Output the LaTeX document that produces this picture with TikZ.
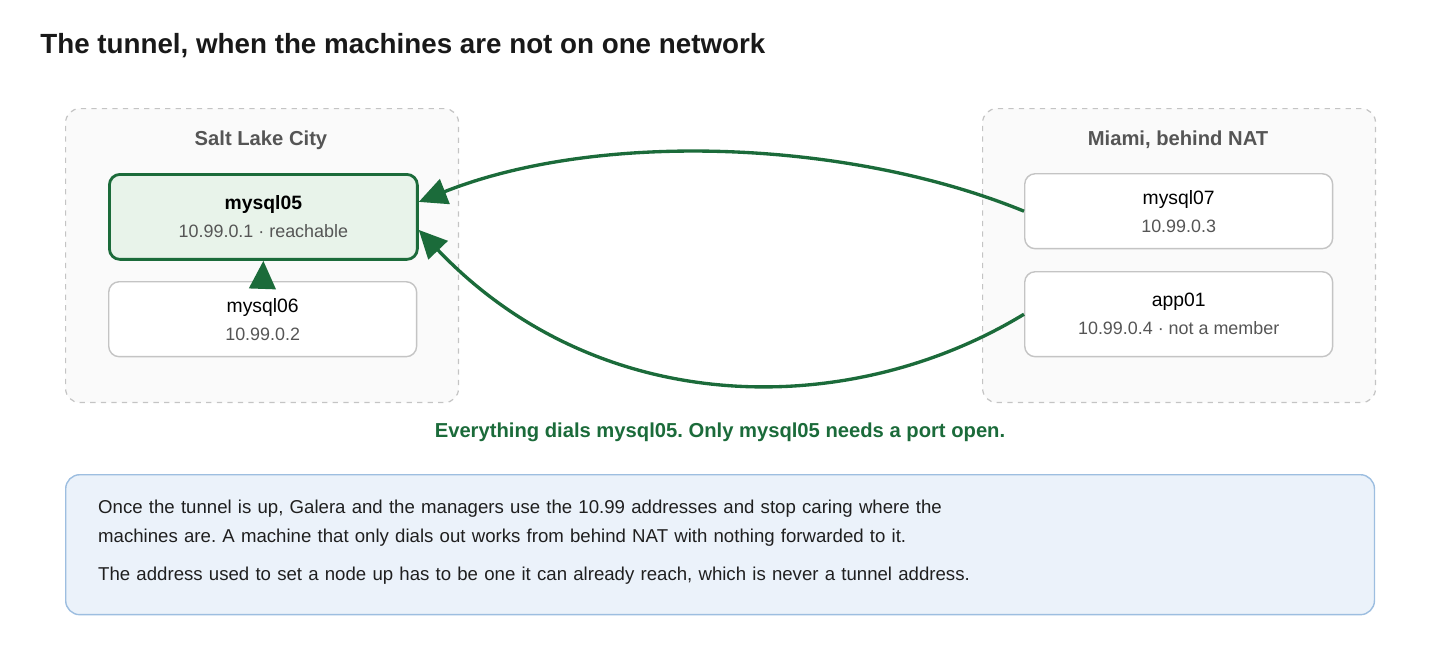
\documentclass[tikz,border=0pt]{standalone}
\usepackage{fontspec}
\setmainfont{Liberation Sans}
\usetikzlibrary{arrows.meta}
\definecolor{tgreen}{HTML}{1B6B3A}
\definecolor{tgreenfill}{HTML}{E8F3EA}
\definecolor{tgray}{HTML}{555555}
\definecolor{tborder}{HTML}{C4C4C4}
\definecolor{tnote}{HTML}{EBF2FA}
\definecolor{tnoteline}{HTML}{9DBEE0}
\tikzset{
  site/.style={draw=tborder, dashed, fill=black!2, rounded corners=8pt, line width=0.7pt, anchor=north west, minimum width=7.86cm, minimum height=5.88cm},
  sitelabel/.style={font=\fontsize{11.5}{13}\selectfont\bfseries, text=tgray},
  host/.style={draw=tborder, fill=white, rounded corners=6pt, line width=0.8pt, anchor=north west, minimum width=6.16cm, align=center, font=\fontsize{11}{13}\selectfont},
  dial/.style={draw=tgreen, line width=1.9pt, -{Triangle[length=16pt,width=15pt]}}
}
\newcommand{\addr}[1]{\\[3pt]{\fontsize{10.2}{12}\selectfont\color{tgray}#1}}
\begin{document}
\frenchspacing
\begin{tikzpicture}[x=0.02cm, y=-0.02cm]
\useasboundingbox (0,0) rectangle (1440,654);

\node[anchor=west, inner sep=0pt, font=\fontsize{15.8}{18}\selectfont\bfseries, text=black!90] (title) at (40,46) {The tunnel, when the machines are not on one network};

% sites
\node[site] (slc) at (65,108) {};
\node[site] (mia) at (982,108) {};
\node[sitelabel] (slclabel) at (261,140) {Salt Lake City};
\node[sitelabel] (mialabel) at (1178,140) {Miami, behind NAT};

% hosts
\node[host, draw=tgreen, fill=tgreenfill, line width=1.6pt, minimum height=1.7cm] (m5) at (108,173) {{\bfseries mysql05}\addr{10.99.0.1 · reachable}};
\node[host, minimum height=1.5cm] (m6) at (108,281) {mysql06\addr{10.99.0.2}};
\node[host, minimum height=1.5cm] (m7) at (1024,173) {mysql07\addr{10.99.0.3}};
\node[host, minimum height=1.7cm] (app) at (1024,271) {app01\addr{10.99.0.4 · not a member}};

% connectors
\draw[dial] (m6.north) -- (m5.south);
\draw[dial] (m7.west) .. controls (850,140) and (600,130) .. ([yshift=0.3cm]m5.east);
\draw[dial] (app.west) .. controls (850,420) and (600,420) .. ([yshift=-0.26cm]m5.east);

\node[font=\fontsize{11.5}{13}\selectfont\bfseries, text=tgreen] (caption) at (720,432) {Everything dials mysql05. Only mysql05 needs a port open.};

% note
\node[draw=tnoteline, fill=tnote, rounded corners=8pt, line width=0.8pt, anchor=north west, minimum width=26.18cm, minimum height=2.8cm] (note) at (65,474) {};
\node[anchor=north west, align=left, text width=25cm, font=\fontsize{10.6}{16.6}\selectfont, text=black!88] (notetext) at (92,494) {Once the tunnel is up, Galera and the managers use the 10.99 addresses and stop caring where the\\machines are. A machine that only dials out works from behind NAT with nothing forwarded to it.\\[5pt]The address used to set a node up has to be one it can already reach, which is never a tunnel address.};
\end{tikzpicture}
\end{document}
